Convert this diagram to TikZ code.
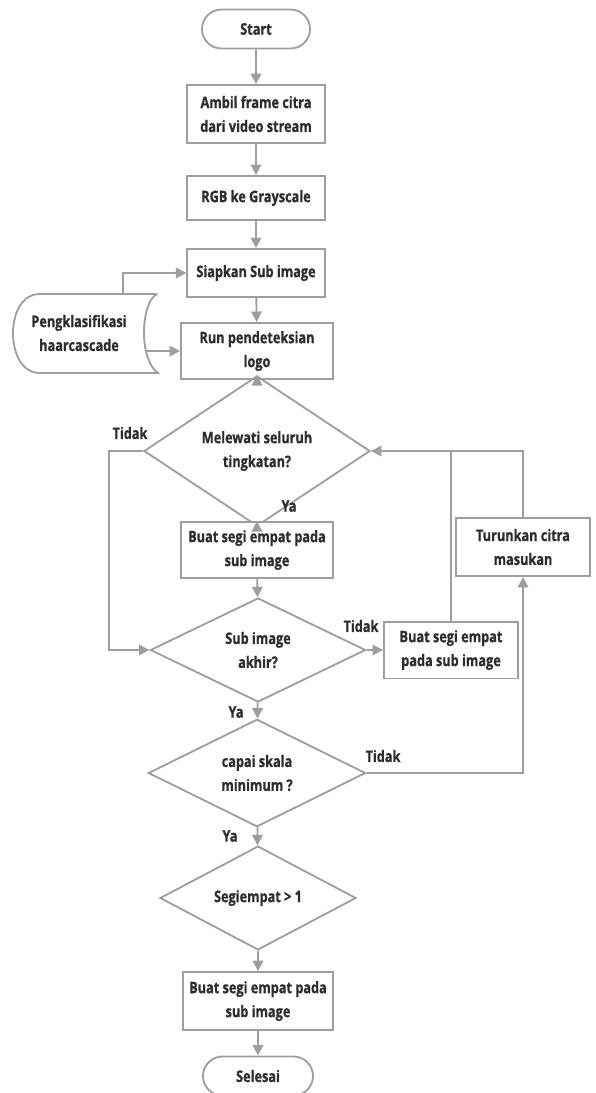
\documentclass[tikz,border=0pt]{standalone}
\usepackage{fontspec}
\setmainfont{Open Sans}[FakeStretch=0.8, BoldFeatures={FakeBold=0.8}]
\usepackage{tikz}
\usetikzlibrary{shapes.geometric, shapes.misc, arrows.meta, positioning}
\tikzset{>={Triangle[length=7.5pt,width=7.5pt]}}
\definecolor{linegray}{RGB}{158,158,158}
\definecolor{txtgray}{RGB}{45,45,45}

\begin{document}
\begin{tikzpicture}[x=0.025cm, y=-0.025cm,
  every node/.style={text=txtgray, font=\fontsize{11.3}{17}\selectfont\bfseries},
  proc/.style={draw=linegray, line width=1.3pt, fill=white, align=center, inner sep=0pt},
  term/.style={rounded rectangle, draw=linegray, line width=1.3pt, inner sep=0pt,
               minimum width=2.7cm, minimum height=0.975cm},
  decide/.style={diamond, draw=linegray, line width=1.3pt, align=center, inner sep=0pt},
  arr/.style={->, draw=linegray, line width=1.3pt},
  link/.style={draw=linegray, line width=1.3pt}]

% Page frame
\useasboundingbox (0,0) rectangle (596,1093);

% Main column
\node[term] (start) at (256,29) {Start};
\node[proc, minimum width=3.45cm, minimum height=1.45cm] (ambil) at (256,114) {Ambil frame citra\\dari video stream};
\node[proc, minimum width=3.43cm, minimum height=1.1cm] (rgb) at (256,198) {RGB ke Grayscale};
\node[proc, minimum width=3.43cm, minimum height=1.2cm] (sub) at (256,273) {Siapkan Sub image};
\node[proc, minimum width=3.8cm, minimum height=1.4cm] (run) at (257,351) {Run pendeteksian\\logo};
\node[decide, minimum width=5.65cm, minimum height=2.6cm] (lewat) at (257,451) {Melewati seluruh\\tingkatan?};
\node[proc, minimum width=3.78cm, minimum height=1.4cm] (kotak) at (257,550) {Buat segi empat pada\\sub image};
\node[decide, minimum width=5.38cm, minimum height=2.6cm] (akhir) at (258,650) {Sub image\\akhir?};
\node[decide, minimum width=5.43cm, minimum height=2.6cm] (skala) at (257,773) {capai skala\\minimum ?};
\node[decide, minimum width=4.9cm, minimum height=2.25cm] (jumlah) at (258,898) {Segiempat > 1};
\node[proc, minimum width=3.75cm, minimum height=1.45cm] (kotakakhir) at (258,1001) {Buat segi empat pada\\sub image};
\node[term, minimum width=2.75cm] (selesai) at (258,1076) {Selesai};

% Side boxes
\node[proc, minimum width=3.35cm, minimum height=1.42cm] (kotaksub) at (451,650) {Buat segi empat\\pada sub image};
\node[proc, minimum width=3.33cm, minimum height=1.45cm] (turun) at (523,547) {Turunkan citra\\masukan};

% Stored classifier
\node[align=center, minimum width=3.3cm, minimum height=1.975cm, inner sep=0pt] (clf) at (79,333) {Pengklasifikasi\\haarcascade};
\draw[link] (157,294) -- (40,294) .. controls (21,294) and (13,315) .. (13,333)
  .. controls (13,352) and (21,373) .. (40,373) -- (158,373)
  .. controls (149,367) and (144,350) .. (144,333)
  .. controls (144,316) and (148,299) .. (157,294);

% Flow
\draw[arr] (start) -- (ambil);
\draw[arr] (ambil) -- (rgb);
\draw[arr] (rgb) -- (sub);
\draw[arr] (sub) -- (run);
\draw[arr] ([xshift=1.1cm]clf.north) |- (sub.west);
\draw[arr] (clf.east |- run.west) -- (run.west);
\draw[arr] (run) -- (lewat);
\draw[arr] (lewat) -- (kotak);
\draw[arr] (kotak) -- (akhir);
\draw[arr] (lewat.west) -- ++(-34,0) |- (akhir.west);
\draw[arr] (akhir) -- (kotaksub);
\draw[arr] (kotaksub.north) |- (lewat.east);
\draw[link] (turun.north) |- (kotaksub.north |- lewat.east);
\draw[arr] (akhir) -- (skala);
\draw[arr] (skala.east) -| (turun.south);
\draw[arr] (skala) -- (jumlah);
\draw[arr] (jumlah) -- (kotakakhir);
\draw[arr] (kotakakhir) -- (selesai);

% Branch labels
\node (t1) at (130,433) {Tidak};
\node (y1) at (289,506) {Ya};
\node (t2) at (361,626) {Tidak};
\node (y2) at (236,712) {Ya};
\node (t3) at (383,756) {Tidak};
\node (y3) at (230,836) {Ya};

\end{tikzpicture}
\end{document}
